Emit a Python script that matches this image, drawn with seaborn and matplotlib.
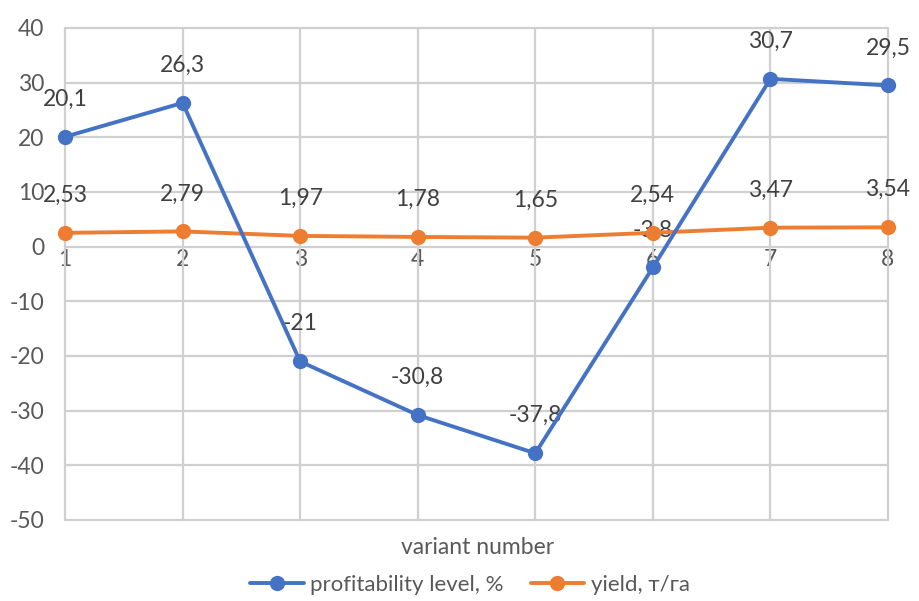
import matplotlib
matplotlib.use("Agg")
import matplotlib.pyplot as plt
import pandas as pd
import seaborn as sns
from matplotlib.lines import Line2D

# Data
variants = [1, 2, 3, 4, 5, 6, 7, 8]
profitability = [20.1, 26.3, -21.0, -30.8, -37.8, -3.8, 30.7, 29.5]
yield_t_ha = [2.53, 2.79, 1.97, 1.78, 1.65, 2.54, 3.47, 3.54]
y_ticks = [-50, -40, -30, -20, -10, 0, 10, 20, 30, 40]
series_names = ["profitability level, %", "yield, т/га"]

sns.set_theme(style="white")
plt.rcParams["font.family"] = ["Lato", "DejaVu Sans"]
plt.rcParams["axes.unicode_minus"] = False

BLUE = "#4472C4"
ORANGE = "#ED7D31"
GRID = "#D0D0D0"
TICK_TXT = "#595959"
LABEL_TXT = "#404040"
FS = 16.5

df = pd.DataFrame({
    "variant": variants * 2,
    "value": profitability + yield_t_ha,
    "series": [series_names[0]] * len(variants) + [series_names[1]] * len(variants),
})

fig = plt.figure(figsize=(9.2, 6.01), dpi=100)
ax = fig.add_axes([65 / 920, 1 - 520 / 601, (888 - 65) / 920, (520 - 28) / 601])

# Yield drawn first so the profitability line sits on top
sns.lineplot(
    data=df[df["series"] == series_names[1]], x="variant", y="value",
    color=ORANGE, marker="o", markersize=11, linewidth=2.8,
    markeredgewidth=0, legend=False, ax=ax, zorder=3, clip_on=False,
)
sns.lineplot(
    data=df[df["series"] == series_names[0]], x="variant", y="value",
    color=BLUE, marker="o", markersize=11, linewidth=2.8,
    markeredgewidth=0, legend=False, ax=ax, zorder=4, clip_on=False,
)

ax.set_xlim(1, 8)
ax.set_ylim(-50, 40)
ax.set_yticks(y_ticks)
ax.set_xticks(variants)
ax.set_xticklabels([str(v) for v in variants])

# Gridlines
for y in y_ticks:
    ax.axhline(y, color=GRID, lw=1.6, zorder=1, clip_on=False)
for x in variants:
    ax.axvline(x, color=GRID, lw=1.6, zorder=1, clip_on=False)

for side in ["top", "right", "left"]:
    ax.spines[side].set_visible(False)
ax.spines["bottom"].set_position(("data", 0))
ax.spines["bottom"].set_color("none")

ax.tick_params(axis="y", length=0, pad=15, labelsize=FS, labelcolor=TICK_TXT)
ax.tick_params(axis="x", length=0, pad=2, labelsize=FS, labelcolor=TICK_TXT)
ax.set_xlabel("")
ax.set_ylabel("")

# Value labels above each point
def fmt(v):
    return f"{v:g}".replace(".", ",")

for vals in (profitability, yield_t_ha):
    for x, v in zip(variants, vals):
        ax.annotate(fmt(v), (x, v), xytext=(0, 27), textcoords="offset points",
                    ha="center", va="center", fontsize=FS, color=LABEL_TXT,
                    zorder=2, annotation_clip=False)

fig.text(478 / 920, 1 - 547 / 601, "variant number", ha="center", va="center",
         fontsize=FS, color=TICK_TXT)

handles = [
    Line2D([], [], color=BLUE, lw=2.8, marker="o", markersize=11, markeredgewidth=0),
    Line2D([], [], color=ORANGE, lw=2.8, marker="o", markersize=11, markeredgewidth=0),
]
fig.legend(handles, series_names, loc="center", bbox_to_anchor=(470 / 920, 1 - 585 / 601),
           ncol=2, frameon=False, fontsize=16, handlelength=2.4, handletextpad=0.3,
           columnspacing=1.2, labelcolor=TICK_TXT)

fig.savefig("out.png", dpi=100)
